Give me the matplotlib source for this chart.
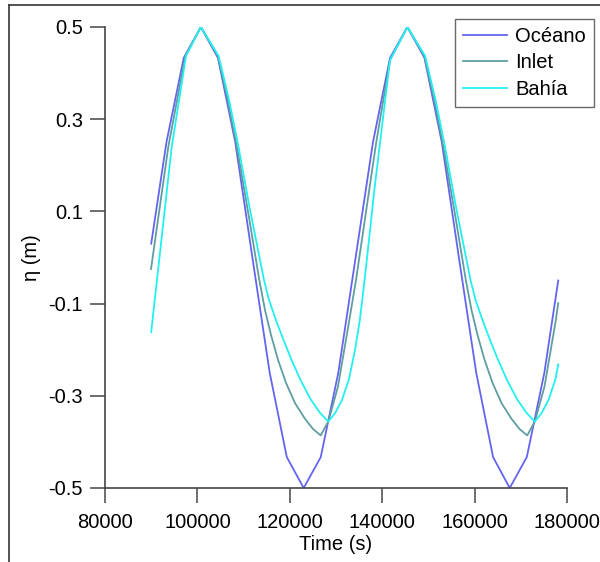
import numpy as np
import matplotlib
matplotlib.use("Agg")
import matplotlib.pyplot as plt
from matplotlib.lines import Line2D

plt.rcParams['font.family'] = ['Liberation Sans', 'DejaVu Sans']

# Océano (ocean side, coarse samples)
t_oceano = [90000, 93300, 97050, 100750, 104450, 108200, 111900, 115650, 119350,
            123000, 126700, 130500, 134250, 138000, 141700, 145450, 149150, 152900,
            156600, 160350, 164000, 167600, 171300, 175100, 178100]
eta_oceano = [0.03, 0.25, 0.433, 0.5, 0.433, 0.25, 0.0, -0.25, -0.433,
              -0.5, -0.433, -0.25, 0.0, 0.25, 0.433, 0.5, 0.433, 0.25,
              0.0, -0.25, -0.433, -0.5, -0.433, -0.25, -0.05]

# Inlet
t_inlet = [89960, 93700, 97400, 100750, 104450, 106560, 108550, 111200, 113400,
           114630, 115930, 117450, 119180, 121130, 123290, 125020, 126690,
           128330, 130430, 132880, 134330, 137080, 138680, 141690,
           145450, 149150, 151260, 153250, 155900, 158100,
           159330, 160630, 162150, 163880, 165830, 167990, 169720, 171390,
           173030, 175130, 177580, 178100]
eta_inlet = [-0.025, 0.24, 0.437, 0.5, 0.437, 0.342, 0.24, 0.085, -0.049,
             -0.114, -0.168, -0.222, -0.272, -0.316, -0.350, -0.372, -0.386,
             -0.356, -0.28, -0.136, -0.049, 0.139, 0.248, 0.428,
             0.5, 0.437, 0.342, 0.24, 0.085, -0.049,
             -0.114, -0.168, -0.222, -0.272, -0.316, -0.350, -0.372, -0.386,
             -0.356, -0.28, -0.136, -0.099]

# Bahía
t_bahia = [90000, 94440, 97530, 100750, 104600, 106840, 108900, 111200, 114420,
           115500, 117010, 118640, 120370, 122320, 124590, 126540, 128330,
           129780, 131300, 132810, 134110, 135150, 136060, 137140, 138230, 139520, 141690,
           145450, 149300, 151540, 153600, 155900, 159120,
           160200, 161710, 163340, 165070, 167020, 169290, 171240, 173030,
           174480, 176000, 177510, 178100]
eta_bahia = [-0.162, 0.24, 0.437, 0.5, 0.437, 0.342, 0.24, 0.113, -0.049,
             -0.092, -0.136, -0.179, -0.222, -0.266, -0.309, -0.337, -0.356,
             -0.338, -0.309, -0.264, -0.201, -0.136, -0.060, 0.038, 0.140, 0.248, 0.428,
             0.5, 0.437, 0.342, 0.24, 0.113, -0.049,
             -0.092, -0.136, -0.179, -0.222, -0.266, -0.309, -0.337, -0.356,
             -0.338, -0.309, -0.264, -0.232]

xticks = [80000, 100000, 120000, 140000, 160000, 180000]
yticks = [-0.5, -0.3, -0.1, 0.1, 0.3, 0.5]

fig = plt.figure(figsize=(6, 5.62), dpi=100)
ax = fig.add_axes([0.175, 0.1317, 0.77, 0.8203])

ax.plot(t_oceano, eta_oceano, color='#6464F0', lw=1.3, label='Océano')
ax.plot(t_inlet, eta_inlet, color='#5F9EA0', lw=1.3, label='Inlet')
ax.plot(t_bahia, eta_bahia, color='#22F0F0', lw=1.3, label='Bahía')

ax.set_xlim(80000, 180000)
ax.set_ylim(-0.5, 0.5)
ax.set_xticks(xticks)
ax.set_yticks(yticks)
ax.set_xticklabels([str(v) for v in xticks])
ax.set_yticklabels(['%.1f' % v for v in yticks])

for s in ['top', 'right']:
    ax.spines[s].set_visible(False)
for s in ['left', 'bottom']:
    ax.spines[s].set_color('#444444')
    ax.spines[s].set_linewidth(1.2)
ax.tick_params(direction='out', length=11, width=1.2, color='#555555',
               labelsize=14.5, pad=5)
ax.tick_params(axis='x', pad=7)

ax.set_xlabel('Time (s)', fontsize=14.5, labelpad=2)
ax.set_ylabel('η (m)', fontsize=14.5, labelpad=5)

leg = ax.legend(loc='upper right', bbox_to_anchor=(1.058, 1.017), fontsize=14.5,
                frameon=True, fancybox=False, handlelength=2.2, handletextpad=0.4,
                borderpad=0.38, labelspacing=0.38, borderaxespad=0)
leg.get_frame().set_edgecolor('#444444')
leg.get_frame().set_linewidth(1.0)

# outer frame
fig.add_artist(Line2D([9 / 600, 9 / 600], [0, 1 - 5 / 562], transform=fig.transFigure,
                      color='#333333', lw=1.2))
fig.add_artist(Line2D([9 / 600, 1], [1 - 5 / 562, 1 - 5 / 562], transform=fig.transFigure,
                      color='#333333', lw=1.2))

fig.savefig('out.png', dpi=100)
